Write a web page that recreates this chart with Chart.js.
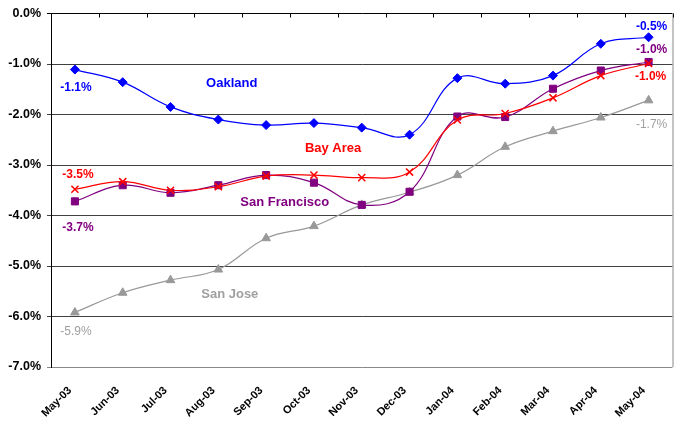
<!DOCTYPE html>
<html>
  <head>
    <title>Bay Area payroll change</title>
    <script src="https://cdn.jsdelivr.net/npm/chart.js"></script>
    <style>
      body { margin: 0; background: #ffffff; }
      #wrap { width: 679px; height: 422px; }
    </style>
  </head>
  <body>
    <div id="wrap"><canvas id="line_chart"></canvas></div>

    <script>
      ///////////////////////////// DATA /////////////////////////////
      var months = [
        "May-03", "Jun-03", "Jul-03", "Aug-03", "Sep-03", "Oct-03", "Nov-03",
        "Dec-03", "Jan-04", "Feb-04", "Mar-04", "Apr-04", "May-04",
      ];
      var oakland = [-1.11, -1.36, -1.85, -2.1, -2.21, -2.17, -2.26, -2.4, -1.28, -1.39, -1.23, -0.6, -0.47];
      var bayArea = [-3.48, -3.33, -3.5, -3.43, -3.22, -3.2, -3.25, -3.14, -2.11, -1.98, -1.67, -1.23, -0.99];
      var sanFrancisco = [-3.72, -3.4, -3.55, -3.4, -3.2, -3.35, -3.79, -3.53, -2.04, -2.05, -1.49, -1.13, -0.96];
      var sanJose = [-5.92, -5.53, -5.28, -5.07, -4.45, -4.21, -3.79, -3.54, -3.2, -2.64, -2.33, -2.06, -1.72];
      var yTicks = [0, -1, -2, -3, -4, -5, -6, -7];

      var FONT = "'Liberation Sans', Arial, sans-serif";
      var BLUE = "#0000ff", RED = "#ff0000", PURPLE = "#800080", GREY = "#999999";

      // value labels at the first / last points: dataset, index, offset
      var valueLabels = [
        { ds: 0, i: 0, dx: 1, dy: 18, bold: true },
        { ds: 0, i: 12, dx: 3, dy: -11, bold: true },
        { ds: 1, i: 0, dx: 3, dy: -15, bold: true },
        { ds: 1, i: 12, dx: 2, dy: 13, bold: true },
        { ds: 2, i: 0, dx: 3, dy: 26, bold: true },
        { ds: 2, i: 12, dx: 3, dy: -12, bold: true },
        { ds: 3, i: 0, dx: 1, dy: 19, bold: false },
        { ds: 3, i: 12, dx: 3, dy: 24, bold: false },
      ];

      // series names, placed in data coordinates (category index, value)
      var seriesNames = [
        { text: "Oakland", x: 3.28, y: -1.38, color: BLUE },
        { text: "Bay Area", x: 5.4, y: -2.67, color: RED },
        { text: "San Francisco", x: 4.39, y: -3.74, color: PURPLE },
        { text: "San Jose", x: 3.24, y: -5.57, color: "#a0a0a0" },
      ];

      ///////////////////////////// CHART /////////////////////////////
      var ctx = document.getElementById("line_chart").getContext("2d");

      function series(label, values, color, style, radius) {
        return {
          label: label,
          data: values,
          borderColor: color,
          backgroundColor: color,
          borderWidth: 1.2,
          pointStyle: style,
          pointRadius: radius,
          pointBorderWidth: style === "crossRot" ? 1.5 : 1,
          pointBorderColor: color,
          pointBackgroundColor: color,
          tension: 0.4,
          fill: false,
        };
      }

      var framePlugin = {
        id: "frame",
        beforeDatasetsDraw: function (chart) {
          var a = chart.chartArea;
          var c = chart.ctx;
          c.save();
          c.lineWidth = 1;
          // right border
          c.strokeStyle = "#888888";
          c.beginPath();
          c.moveTo(a.right + 0.5, a.top);
          c.lineTo(a.right + 0.5, a.bottom);
          c.stroke();
          // category tick marks hanging from the top axis line
          c.strokeStyle = "#000000";
          var n = months.length;
          for (var k = 0; k <= n; k++) {
            var x = Math.round(a.left + (k * (a.right - a.left)) / n) + 0.5;
            c.beginPath();
            c.moveTo(x, a.top);
            c.lineTo(x, a.top + 4);
            c.stroke();
          }
          c.restore();
        },
      };

      var labelPlugin = {
        id: "labels",
        afterDatasetsDraw: function (chart) {
          var c = chart.ctx;
          c.save();
          c.textAlign = "center";
          c.textBaseline = "middle";
          valueLabels.forEach(function (l) {
            var ds = chart.data.datasets[l.ds];
            var pt = chart.getDatasetMeta(l.ds).data[l.i];
            c.font = (l.bold ? "bold " : "") + "12px " + FONT;
            c.fillStyle = l.ds === 3 ? "#a0a0a0" : ds.borderColor;
            c.fillText(ds.data[l.i].toFixed(1) + "%", pt.x + l.dx, pt.y + l.dy);
          });
          var xs = chart.scales.x, ys = chart.scales.y;
          c.font = "bold 13px " + FONT;
          seriesNames.forEach(function (s) {
            c.fillStyle = s.color;
            c.fillText(s.text, xs.getPixelForValue(s.x), ys.getPixelForValue(s.y));
          });
          c.restore();
        },
      };

      var myChart = new Chart(ctx, {
        type: "line",
        data: {
          labels: months,
          datasets: [
            series("Oakland", oakland, BLUE, "rectRot", 4.5),
            series("Bay Area", bayArea, RED, "crossRot", 5),
            series("San Francisco", sanFrancisco, PURPLE, "rect", 5),
            series("San Jose", sanJose, GREY, "triangle", 5),
          ],
        },
        options: {
          responsive: true,
          maintainAspectRatio: false,
          animation: false,
          layout: { padding: { left: 0, top: 13, right: 6, bottom: 0 } },
          plugins: {
            legend: { display: false },
            tooltip: { enabled: false },
          },
          scales: {
            x: {
              type: "category",
              offset: true,
              grid: { display: false },
              border: { display: false },
              ticks: {
                autoSkip: false,
                minRotation: 45,
                maxRotation: 45,
                padding: 9,
                labelOffset: -5,
                color: "#000000",
                font: { family: FONT, size: 11, weight: "bold" },
              },
              afterFit: function (scale) {
                scale.height = 55;
              },
            },
            y: {
              min: -7,
              max: 0,
              afterBuildTicks: function (scale) {
                scale.ticks = yTicks.map(function (v) { return { value: v }; });
              },
              grid: {
                tickLength: 4,
                color: function (c) {
                  if (c.tick.value === 0) return "#000000";
                  if (c.tick.value === -7) return "#888888";
                  return "#404040";
                },
              },
              border: { color: "#000000", width: 1 },
              ticks: {
                padding: 6,
                color: "#000000",
                font: { family: FONT, size: 12.5, weight: "bold" },
                callback: function (v) {
                  return v.toFixed(1) + "%";
                },
              },
              afterFit: function (scale) {
                scale.width = 51;
              },
            },
          },
        },
        plugins: [framePlugin, labelPlugin],
      });
    </script>
  </body>
</html>
